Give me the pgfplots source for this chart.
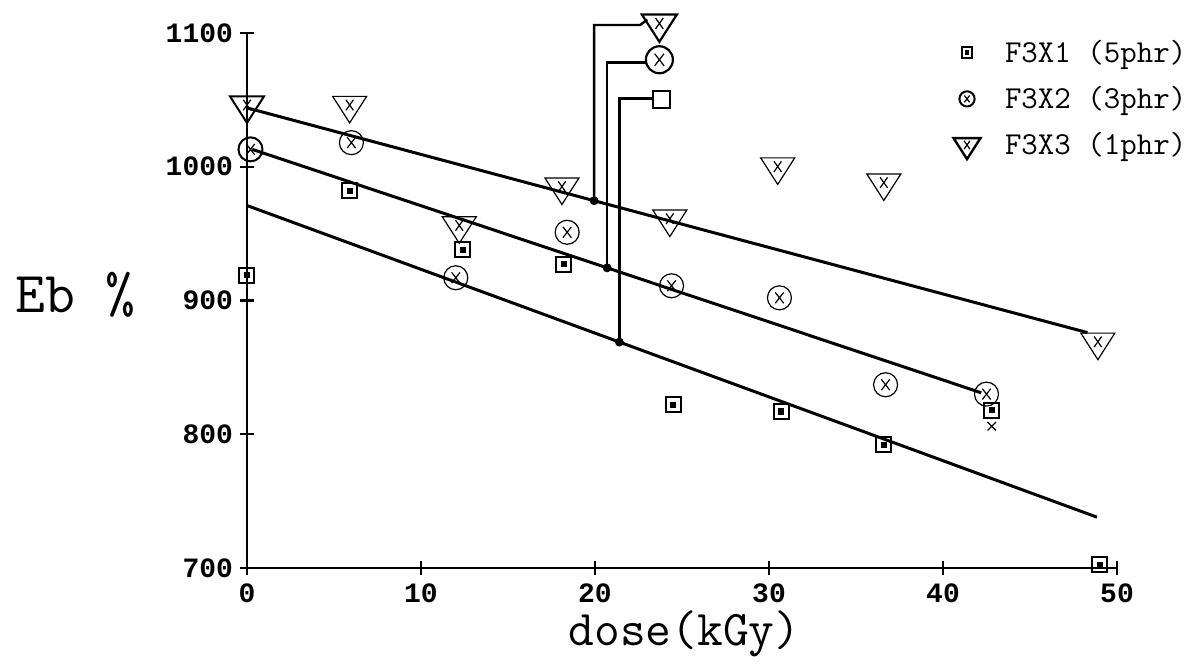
\documentclass[border=0pt]{standalone}
\usepackage{fontspec}
\usepackage{pgfplots}
\pgfplotsset{compat=1.18}
\newfontfamily\tickfont{Liberation Mono}

\pgfdeclareplotmark{sqd}{%
  \pgfpathrectangle{\pgfpoint{-\pgfplotmarksize}{-\pgfplotmarksize}}{\pgfpoint{2\pgfplotmarksize}{2\pgfplotmarksize}}%
  \pgfusepathqstroke
  \pgfpathrectangle{\pgfpoint{-0.28\pgfplotmarksize}{-0.28\pgfplotmarksize}}{\pgfpoint{0.56\pgfplotmarksize}{0.56\pgfplotmarksize}}%
  \pgfusepathqfillstroke}
\pgfdeclareplotmark{cix}{%
  \pgfpathcircle{\pgfpointorigin}{\pgfplotmarksize}\pgfusepathqstroke
  \pgfsetlinewidth{0.6pt}%
  \pgfpathmoveto{\pgfpoint{-0.35\pgfplotmarksize}{0.45\pgfplotmarksize}}\pgfpathlineto{\pgfpoint{0.35\pgfplotmarksize}{-0.45\pgfplotmarksize}}%
  \pgfpathmoveto{\pgfpoint{0.35\pgfplotmarksize}{0.45\pgfplotmarksize}}\pgfpathlineto{\pgfpoint{-0.35\pgfplotmarksize}{-0.45\pgfplotmarksize}}%
  \pgfusepathqstroke}
\pgfdeclareplotmark{trix}{%
  \pgfpathmoveto{\pgfpoint{-\pgfplotmarksize}{0.52\pgfplotmarksize}}%
  \pgfpathlineto{\pgfpoint{\pgfplotmarksize}{0.52\pgfplotmarksize}}%
  \pgfpathlineto{\pgfpoint{0pt}{-1.04\pgfplotmarksize}}%
  \pgfpathclose\pgfusepathqstroke
  \pgfsetlinewidth{0.6pt}%
  \pgfpathmoveto{\pgfpoint{-0.22\pgfplotmarksize}{0.32\pgfplotmarksize}}\pgfpathlineto{\pgfpoint{0.22\pgfplotmarksize}{-0.3\pgfplotmarksize}}%
  \pgfpathmoveto{\pgfpoint{0.22\pgfplotmarksize}{0.32\pgfplotmarksize}}\pgfpathlineto{\pgfpoint{-0.22\pgfplotmarksize}{-0.3\pgfplotmarksize}}%
  \pgfusepathqstroke}

\begin{document}
\begin{tikzpicture}
\useasboundingbox (-123.5pt,-52pt) rectangle (470.5pt,284pt);
\begin{axis}[
  scale only axis, width=435pt, height=267.5pt,
  xmin=0, xmax=50, ymin=700, ymax=1100,
  clip=false,
  axis x line=bottom, axis y line=left,
  axis line style={-, line width=1.4pt},
  xtick={0,10,20,30,40,50}, ytick={700,800,900,1000,1100},
  tick align=center, major tick length=7pt,
  tick style={line width=1.2pt, black},
  /pgf/number format/assume math mode=true,
  /pgf/number format/1000 sep={},
  ticklabel style={font=\tickfont\bfseries\fontsize{14}{14}\selectfont},
  xticklabel style={yshift=-1pt},
  xlabel={dose(kGy)},
  ylabel={Eb \%},
  every axis x label/.style={at={(axis description cs:0.503,-0.145)}, anchor=base, font=\ttfamily\fontsize{25}{25}\selectfont},
  every axis y label/.style={at={(axis description cs:-0.197,0.51)}, anchor=center, font=\ttfamily\fontsize{29}{29}\selectfont},
  legend style={at={(axis description cs:1.087,0.995)}, anchor=north east, draw=none, fill=none,
    font=\ttfamily\fontsize{16}{16}\selectfont, row sep=10.5pt, column sep=0pt,
    nodes={inner sep=0pt}, cells={anchor=west}},
  legend image code/.code={\draw[#1] plot coordinates {(9pt,0pt)}; \path[draw=none] (0pt,0pt) -- (28pt,0pt);},
]
% fitted lines
\addplot[line width=1.5pt, forget plot] coordinates {(0,971) (48.85,738)};
\addplot[line width=1.5pt, forget plot] coordinates {(0.3,1013) (42.2,831)};
\addplot[line width=1.5pt, forget plot] coordinates {(0,1044) (48.3,876)};
% callouts
\addplot[line width=1.2pt, forget plot] coordinates {(19.95,974.6) (19.95,1106) (22.6,1106) (23.0,1110)};
\addplot[line width=1.2pt, forget plot] coordinates {(20.7,924.4) (20.7,1078) (23.0,1078)};
\addplot[line width=1.2pt, forget plot] coordinates {(21.4,868.9) (21.4,1051) (23.3,1051)};
\addplot[only marks, mark=*, mark size=2pt, forget plot] coordinates {(19.95,974.6) (20.7,924.4) (21.4,868.9)};
\addplot[only marks, mark=trix, mark size=8.75pt, line width=1.1pt, forget plot] coordinates {(23.7,1107)};
\addplot[only marks, mark=cix, mark size=6.75pt, line width=1.1pt, forget plot] coordinates {(23.7,1080)};
\addplot[only marks, mark=square, mark size=4.25pt, line width=1.1pt, forget plot] coordinates {(23.8,1050)};
% F3X1
\addplot[only marks, mark=sqd, mark size=3.75pt, line width=1pt, forget plot] coordinates {
(0,919) (5.9,982) (12.4,938) (18.2,927) (24.5,822) (30.7,817) (36.6,792) (42.8,818) (49.0,702.5)};
% F3X2
\addplot[only marks, mark=cix, mark size=6pt, line width=1pt, forget plot] coordinates {
(0.2,1013) (6.0,1018) (12.0,917) (18.4,951) (24.4,911) (30.6,902) (36.7,837) (42.5,830)};
% F3X3
\addplot[only marks, mark=trix, mark size=8.5pt, line width=1pt, forget plot] coordinates {
(0,1046) (5.9,1046) (12.2,956) (18.1,985) (24.3,961) (30.5,1000) (36.6,988) (48.9,869)};
% stray cross
\addplot[only marks, mark=x, mark size=3pt, line width=0.6pt, forget plot] coordinates {(42.8,806)};
% legend
\addlegendimage{only marks, mark=sqd, mark size=2.6pt, line width=1pt}
\addlegendentry{F3X1 (5phr)}
\addlegendimage{only marks, mark=cix, mark size=3.8pt, line width=1pt}
\addlegendentry{F3X2 (3phr)}
\addlegendimage{only marks, mark=trix, mark size=6.75pt, line width=1.2pt}
\addlegendentry{F3X3 (1phr)}
\end{axis}
\end{tikzpicture}
\end{document}
